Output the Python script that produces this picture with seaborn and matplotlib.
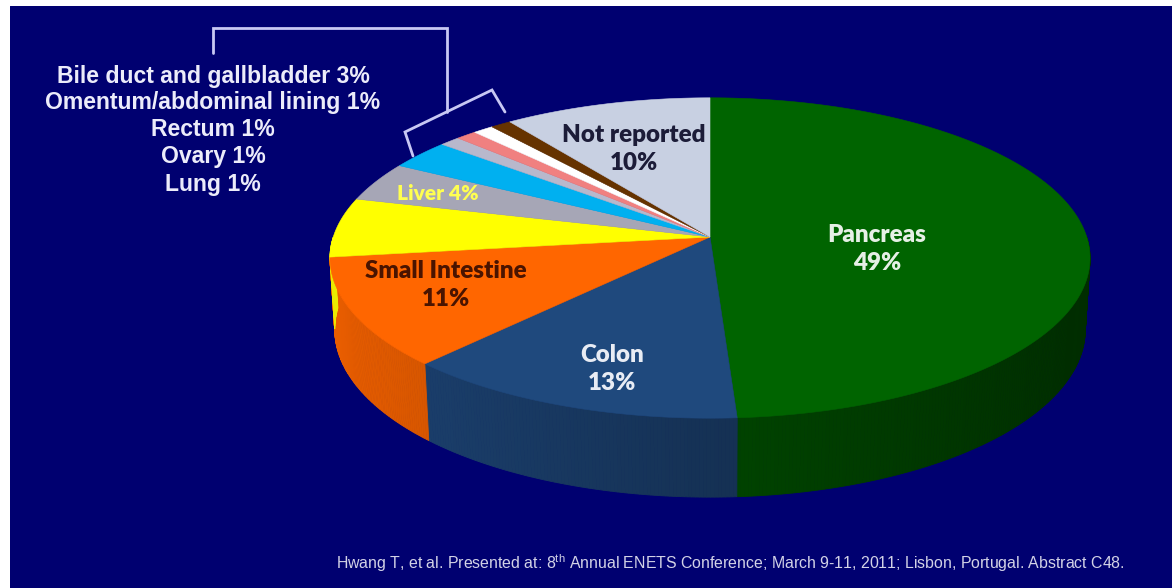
import numpy as np
import matplotlib
matplotlib.use("Agg")
import matplotlib.pyplot as plt
from matplotlib.patches import Polygon
from matplotlib.colors import to_rgb
from matplotlib import font_manager as fm
import seaborn as sns

# ---- data -------------------------------------------------------------
sites = ["Pancreas", "Colon", "Small Intestine", "Other sites", "Liver",
         "Bile duct and gallbladder", "Ovary", "Omentum/abdominal lining",
         "Rectum", "Lung", "Not reported"]
shares = [49, 13, 11, 6, 4, 3, 1, 1, 1, 1, 10]
slice_colors = ["#006400", "#1F497D", "#FF6600", "#FFFF00", "#A6A6B6",
                "#00B0F0", "#B8B8CC", "#F08080", "#FFFFFF", "#663300",
                "#C8D0E2"]

# sites listed beside the pie instead of inside it
listed_sites = ["Bile duct and gallbladder", "Omentum/abdominal lining",
                "Rectum", "Ovary", "Lung"]

source_note = ("Hwang T, et al. Presented at: 8$^{\\rm th}$ Annual ENETS Conference; "
               "March 9-11, 2011; Lisbon, Portugal. Abstract C48.")

# ---- style ------------------------------------------------------------
sns.set_style("white")
BG = "#000070"
W, H = 1172, 588


def have(name):
    try:
        fm.findfont(fm.FontProperties(family=name), fallback_to_default=False)
        return True
    except Exception:
        return False


inner_font = "Lato" if have("Lato") else "DejaVu Sans"
list_font = "Liberation Sans" if have("Liberation Sans") else "DejaVu Sans"
note_font = "Liberation Sans Narrow" if have("Liberation Sans Narrow") else list_font
note_size = 9.6 if note_font.endswith("Narrow") else 11.4
plt.rcParams["font.family"] = [list_font, "DejaVu Sans"]
plt.rcParams["mathtext.fontset"] = "custom"
plt.rcParams["mathtext.rm"] = note_font

fig = plt.figure(figsize=(W / 100, H / 100), dpi=100, facecolor="white")
ax = fig.add_axes([10 / W, 0, 1 - 10 / W, 1 - 6 / H])
ax.set_facecolor(BG)
ax.set_xlim(10, W)
ax.set_ylim(H, 6)
ax.set_axis_off()
ax.add_patch(plt.Rectangle((10, 6), W - 10, H - 6, color=BG, zorder=0))

# ---- perspective view of a tilted disc ---------------------------------
ELEV = np.radians(24.7)
DIST = 6.93
FOCAL = 2611.0
CX, CY = 710.0, 237.0
THICK = 0.21


def project(theta_deg, r, z):
    t = np.radians(theta_deg)
    x = r * np.sin(t)
    y = r * np.cos(t)
    depth = DIST + y * np.cos(ELEV) - z * np.sin(ELEV)
    px = FOCAL * x / depth
    py = FOCAL * (y * np.sin(ELEV) + z * np.cos(ELEV)) / depth
    return CX + px, CY - py


def shade(color, theta_deg):
    f = 0.68 - 0.24 * np.sin(np.radians(theta_deg))
    return tuple(np.clip(np.array(to_rgb(color)) * f, 0, 1))


palette = sns.color_palette(slice_colors)
bounds = np.concatenate([[0], np.cumsum(shares)]) / np.sum(shares) * 360.0

# side wall (only the near half faces the viewer)
for i, col in enumerate(palette):
    a, b = bounds[i], bounds[i + 1]
    lo, hi = max(a, 90.0), min(b, 270.0)
    if hi <= lo:
        continue
    steps = np.linspace(lo, hi, max(2, int((hi - lo) / 0.5) + 1))
    for t0, t1 in zip(steps[:-1], steps[1:]):
        p = [project(t0, 1, 0), project(t1, 1, 0),
             project(t1, 1, -THICK), project(t0, 1, -THICK)]
        c = shade(col, 0.5 * (t0 + t1))
        ax.add_patch(Polygon(p, closed=True, facecolor=c, edgecolor=c,
                             linewidth=0.6, zorder=2))

# top faces
for i, col in enumerate(palette):
    a, b = bounds[i], bounds[i + 1]
    arc = np.linspace(a, b, max(3, int((b - a) / 0.5) + 1))
    pts = [project(0, 0, 0)] + [project(t, 1, 0) for t in arc]
    ax.add_patch(Polygon(pts, closed=True, facecolor=col, edgecolor=col,
                         linewidth=0.4, zorder=3))

# ---- labels inside the pie ---------------------------------------------
pct = dict(zip(sites, shares))
inner = [
    # site, text template, colour, anchor, size
    ("Pancreas", "Pancreas\n{}%", "#E6F0E6", (877, 249), 17.4),
    ("Colon", "Colon\n{}%", "#E8ECF4", (612, 369), 17.4),
    ("Small Intestine", "Small Intestine\n{}%", "#4A1400", (446, 285), 17.4),
    ("Not reported", "Not reported\n{}%", "#1C1C38", (634, 149), 17.4),
    ("Liver", "Liver {}%", "#FFFF50", (438, 193), 15.0),
]
for site, tmpl, color, (x, y), size in inner:
    ax.text(x, y, tmpl.format(pct[site]), color=color, fontsize=size,
            fontweight="heavy", family=[inner_font, "DejaVu Sans"],
            ha="center", va="center", linespacing=1.28, zorder=5)

# ---- list of the smallest sites with a bracket --------------------------
for k, site in enumerate(listed_sites):
    ax.text(213, 76 + 27 * k, f"{site} {pct[site]}%", color="#ECECFA",
            fontsize=16.6, fontweight="bold", ha="center", va="center",
            zorder=5)

bracket_color = "#C8C8F4"
ax.plot([213, 213, 447, 447], [53, 28, 28, 112], color=bracket_color,
        lw=2, solid_joinstyle="miter", zorder=4)
ax.plot([413, 405, 492, 505], [156, 132, 90, 112], color=bracket_color,
        lw=2, solid_joinstyle="miter", zorder=4)

# ---- source -------------------------------------------------------------
ax.text(730, 563, source_note, color="#D2D2E6", fontsize=note_size,
        family=[note_font, "DejaVu Sans"], ha="center", va="center", zorder=5)

fig.savefig("out.png", dpi=100, facecolor=fig.get_facecolor())
